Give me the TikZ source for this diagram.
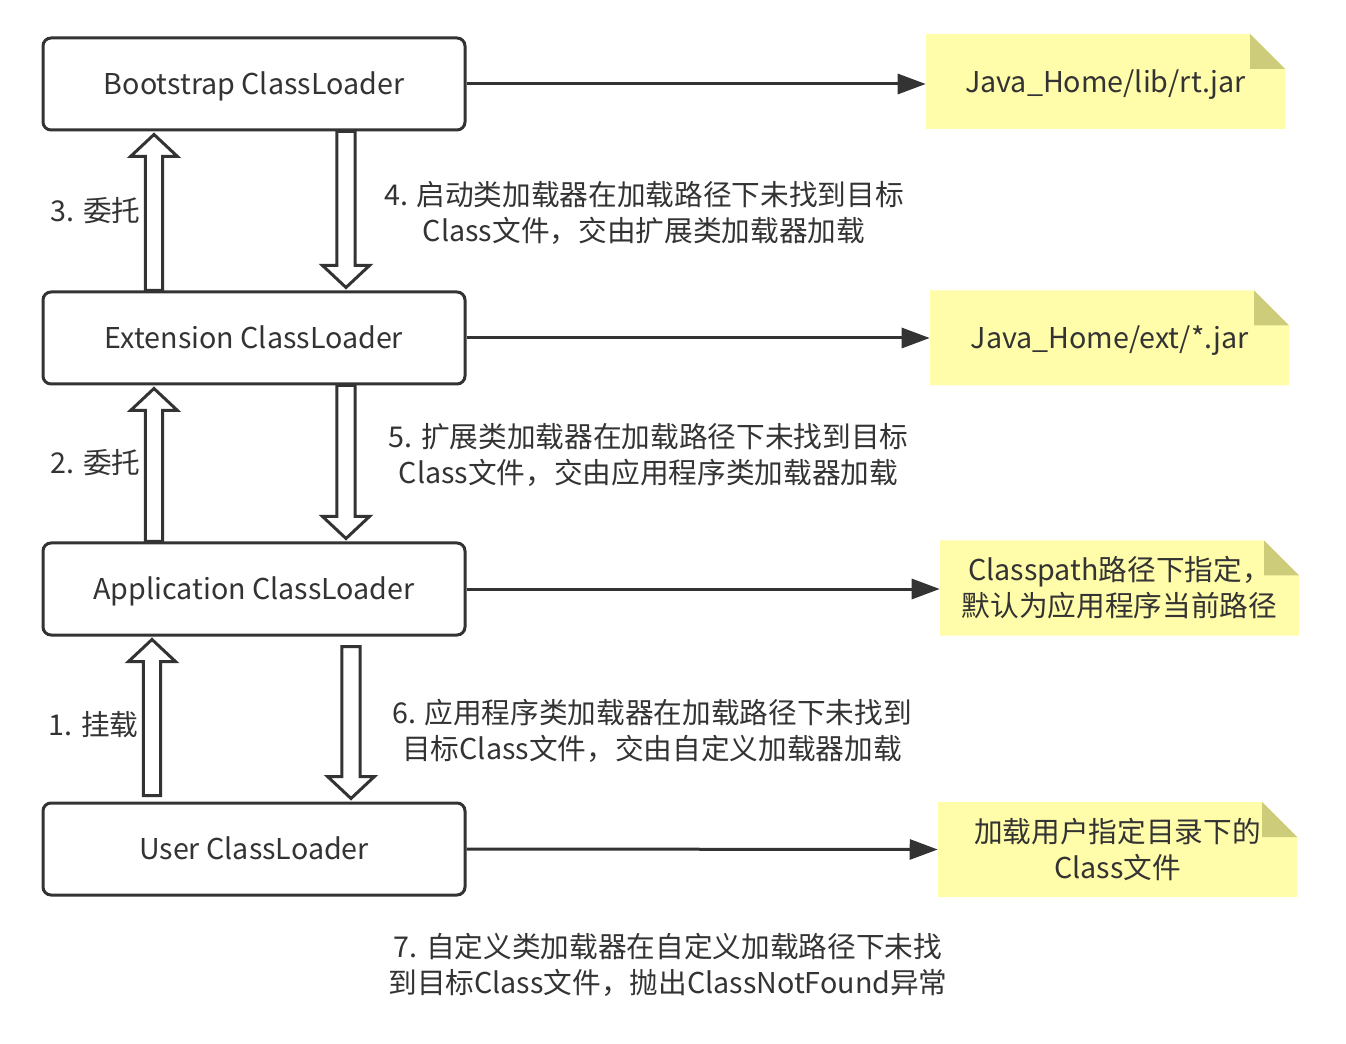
\documentclass[tikz,border=0pt]{standalone}
\usepackage{fontspec}
\newfontfamily\cjk{Noto Sans CJK SC}
\usetikzlibrary{calc,arrows.meta}
\definecolor{ink}{HTML}{333333}
\definecolor{noteyellow}{HTML}{FFFCAA}
\definecolor{noteolive}{HTML}{CCCC7A}
\newcommand{\blkup}[2]{%
  \draw[blk] let \p1=(#1), \p2=(#2) in
    (\x1-6.4pt,\y1) -- (\x1-6.4pt,\y2-16.5pt) -- (\x1-17.6pt,\y2-16.5pt) -- (\x1,\y2)
    -- (\x1+17.6pt,\y2-16.5pt) -- (\x1+6.4pt,\y2-16.5pt) -- (\x1+6.4pt,\y1) -- cycle;}
\newcommand{\blkdown}[2]{%
  \draw[blk] let \p1=(#1), \p2=(#2) in
    (\x1-6.8pt,\y1) -- (\x1-6.8pt,\y2+16.5pt) -- (\x1-17.6pt,\y2+16.5pt) -- (\x1,\y2)
    -- (\x1+17.6pt,\y2+16.5pt) -- (\x1+6.8pt,\y2+16.5pt) -- (\x1+6.8pt,\y1) -- cycle;}
\tikzset{
  txt/.style={font=\cjk\fontsize{21.5}{27}\selectfont, text=ink, align=center, inner sep=0pt},
  oneline/.style={text height=15.8pt, text depth=0pt},
  loader/.style={txt, oneline, draw=ink, line width=2.25pt, rounded corners=6pt, fill=white,
    minimum width=316.5pt, minimum height=69pt},
  note/.style={txt, minimum width=269.25pt, minimum height=71.25pt,
    path picture={
      \fill[noteyellow] (path picture bounding box.south west) -- (path picture bounding box.north west)
        -- ($(path picture bounding box.north east)+(-26.25pt,0)$)
        -- ($(path picture bounding box.north east)+(0,-26.25pt)$)
        -- (path picture bounding box.south east) -- cycle;
      \fill[noteolive] ($(path picture bounding box.north east)+(-26.25pt,0)$)
        -- ($(path picture bounding box.north east)+(-26.25pt,-26.25pt)$)
        -- ($(path picture bounding box.north east)+(0,-26.25pt)$) -- cycle;
    }},
  arr/.style={draw=ink, line width=2.25pt, -{Triangle[length=21pt,width=15pt]}},
  blk/.style={draw=ink, line width=2.25pt, fill=white, line join=miter},
}
\begin{document}
\begin{tikzpicture}[x=0.75pt,y=-0.75pt]
\useasboundingbox (0,0) rectangle (1346,1044);
% loaders
\node[loader] (boot) at (254,84) {Bootstrap ClassLoader};
\node[loader] (ext) at (254,338) {Extension ClassLoader};
\node[loader] (app) at (254,589) {Application ClassLoader};
\node[loader] (user) at (254,849) {User ClassLoader};
% notes
\node[note, oneline] (n1) at (1105.5,81.5) {Java\_Home/lib/rt.jar};
\node[note, oneline] (n2) at (1109.5,338) {Java\_Home/ext/*.jar};
\node[note] (n3) at (1119.5,588) {Classpath路径下指定，\\默认为应用程序当前路径};
\node[note] (n4) at (1117.5,849.5) {加载用户指定目录下的\\Class文件};
% horizontal arrows
\draw[arr] (boot.east) -- (boot.east -| n1.west);
\draw[arr] (ext.east) -- (ext.east -| n2.west);
\draw[arr] (app.east) -- (app.east -| n3.west);
\draw[arr] (user.east) -- (n4.west);
% block-arrow anchor points
\coordinate (u3b) at (ext.north -| 154,0);
\coordinate (u3t) at ($(boot.south -| 154,0)+(0,3)$);
\coordinate (d4t) at (boot.south -| 346,0);
\coordinate (d4b) at ($(ext.north -| 346,0)+(0,-3)$);
\coordinate (u2b) at (app.north -| 154,0);
\coordinate (u2t) at ($(ext.south -| 154,0)+(0,3)$);
\coordinate (d5t) at (ext.south -| 346,0);
\coordinate (d5b) at ($(app.north -| 346,0)+(0,-3)$);
\coordinate (u1b) at ($(user.north -| 152,0)+(0,-6)$);
\coordinate (u1t) at ($(app.south -| 152,0)+(0,3)$);
\coordinate (d6t) at ($(app.south -| 351,0)+(0,10)$);
\coordinate (d6b) at ($(user.north -| 351,0)+(0,-3)$);
\blkup{u3b}{u3t}
\blkdown{d4t}{d4b}
\blkup{u2b}{u2t}
\blkdown{d5t}{d5b}
\blkup{u1b}{u1t}
\blkdown{d6t}{d6b}
% labels
\node[txt] (l3) at (95.5,211) {3. 委托};
\node[txt] (l2) at (95.5,463) {2. 委托};
\node[txt] (l1) at (93.5,725) {1. 挂载};
\node[txt] (l4) at (644,213) {4. 启动类加载器在加载路径下未找到目标\\Class文件，交由扩展类加载器加载};
\node[txt] (l5) at (648.5,455) {5. 扩展类加载器在加载路径下未找到目标\\Class文件，交由应用程序类加载器加载};
\node[txt] (l6) at (652,731) {6. 应用程序类加载器在加载路径下未找到\\目标Class文件，交由自定义加载器加载};
\node[txt] (l7) at (668,965) {7. 自定义类加载器在自定义加载路径下未找\\到目标Class文件，抛出ClassNotFound异常};
\end{tikzpicture}
\end{document}
